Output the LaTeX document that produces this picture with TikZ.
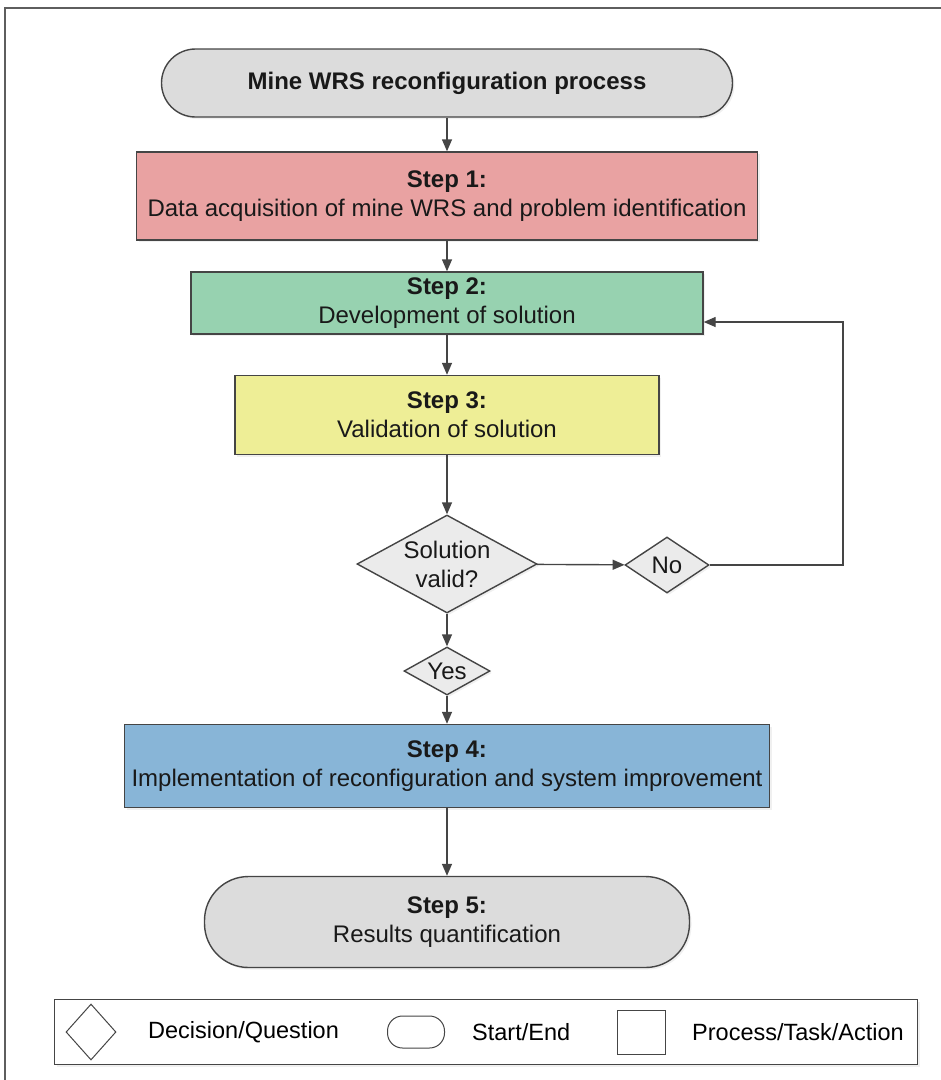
\documentclass[tikz,border=0pt]{standalone}
\usepackage{fontspec}
\setmainfont{Liberation Sans}
\usetikzlibrary{arrows.meta,shapes.geometric,shadows,calc}

\definecolor{edge}{HTML}{454545}
\definecolor{termfill}{HTML}{DCDCDC}
\definecolor{decfill}{HTML}{EBEBEB}
\definecolor{redfill}{HTML}{E9A2A2}
\definecolor{greenfill}{HTML}{97D2B0}
\definecolor{yellowfill}{HTML}{EEEE96}
\definecolor{bluefill}{HTML}{88B5D7}
\definecolor{framecol}{HTML}{5E5E5E}

\tikzset{
  base/.style={draw=edge, line width=1.4pt, inner sep=0pt, align=center,
    font=\fontsize{24}{29}\selectfont, text=black!90,
    drop shadow={shadow xshift=2pt, shadow yshift=-2pt, opacity=0.12}},
  procbox/.style={base, rectangle},
  termbox/.style={base, rectangle, rounded corners=34pt, fill=termfill},
  decbox/.style={base, diamond, aspect=1.8, fill=decfill},
  flow/.style={draw=edge, line width=1.4pt, -{Triangle[length=12pt,width=10pt]}},
  legtext/.style={font=\fontsize{23.5}{28}\selectfont, anchor=west, inner sep=0pt},
  legmark/.style={draw=edge, line width=1pt, inner sep=0pt}
}

\begin{document}
\begin{tikzpicture}[x=1pt,y=-1pt]
\useasboundingbox (0,0) rectangle (941,1080);
% outer frame (only its top and left sides fall inside the page)
\draw[framecol, line width=2.5pt] (5,1082) -- (5,8) -- (943,8);

% flow nodes
\node[termbox, minimum width=571pt, minimum height=68pt] (start) at (447,83)
  {\textbf{Mine WRS reconfiguration process}};
\node[procbox, fill=redfill, minimum width=621pt, minimum height=88pt] (s1) at (447,196)
  {\textbf{Step 1:}\\Data acquisition of mine WRS and problem identification};
\node[procbox, fill=greenfill, minimum width=512pt, minimum height=62pt] (s2) at (447,303)
  {\textbf{Step 2:}\\Development of solution};
\node[procbox, fill=yellowfill, minimum width=424pt, minimum height=79pt] (s3) at (447,415)
  {\textbf{Step 3:}\\Validation of solution};
\node[decbox, minimum width=180pt, minimum height=98pt] (valid) at (447,564)
  {Solution\\valid?};
\node[decbox, minimum width=84pt, minimum height=56pt] (no) at (667,565) {No};
\node[decbox, minimum width=86pt, minimum height=48pt] (yes) at (447,671) {Yes};
\node[procbox, fill=bluefill, minimum width=645pt, minimum height=83pt] (s4) at (447,766)
  {\textbf{Step 4:}\\Implementation of reconfiguration and system improvement};
\node[termbox, rounded corners=44pt, minimum width=485pt, minimum height=91pt] (s5) at (447,922)
  {\textbf{Step 5:}\\Results quantification};

% connectors
\draw[flow] (start) -- (s1);
\draw[flow] (s1) -- (s2);
\draw[flow] (s2) -- (s3);
\draw[flow] (s3) -- (valid);
\draw[flow] (valid) -- (no);
\draw[flow] (valid) -- (yes);
\draw[flow] (yes) -- (s4);
\draw[flow] (s4) -- (s5);
\coordinate (back) at (843,322);
\draw[flow] (no.east) -| (back) -- (s2.east |- back);

% legend
\node[draw=edge, line width=1.2pt, minimum width=863pt, minimum height=65pt,
  drop shadow={shadow xshift=2pt, shadow yshift=-2pt, opacity=0.12}, fill=white] (legend) at (486,1032) {};
\node[legmark, diamond, aspect=0.86, minimum width=50pt, minimum height=56pt] (ldec) at (91,1032) {};
\node[legtext] (ldect) at (148,1032) {Decision/Question};
\node[legmark, rectangle, rounded corners=15pt, minimum width=57pt, minimum height=32pt] (lterm) at (416,1032) {};
\node[legtext] (ltermt) at (472,1032) {Start/End};
\node[legmark, rectangle, minimum width=48pt, minimum height=44pt] (lproc) at (641,1032) {};
\node[legtext] (lproct) at (692,1032) {Process/Task/Action};
\end{tikzpicture}
\end{document}
